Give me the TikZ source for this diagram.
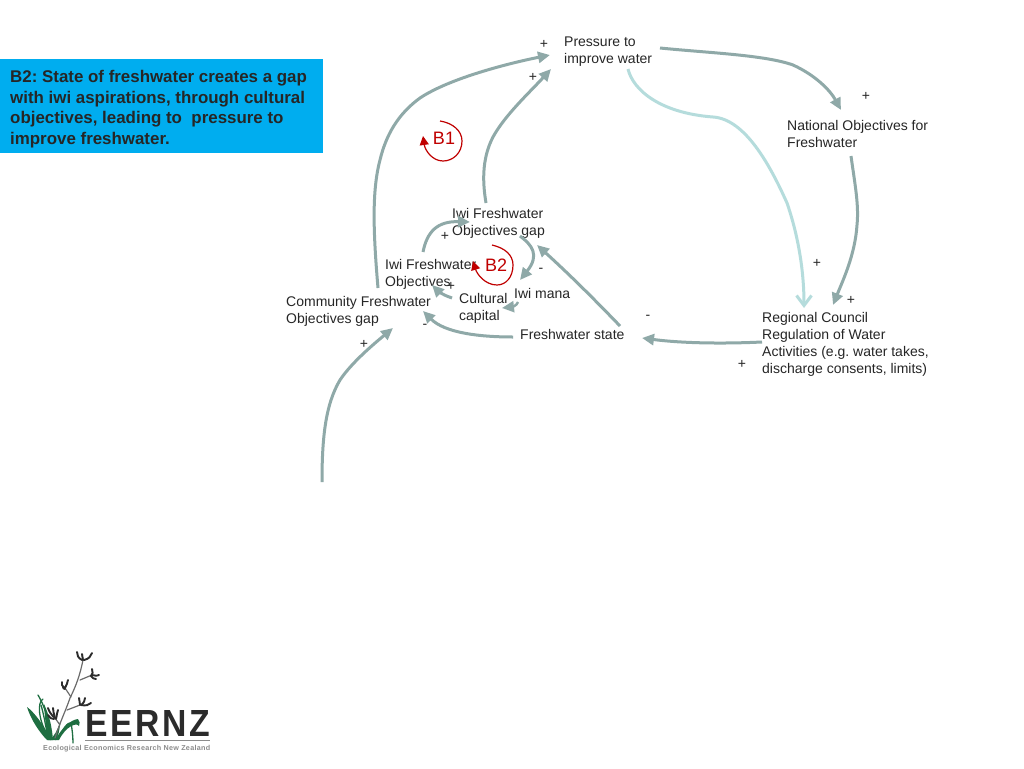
\documentclass[tikz,border=0pt]{standalone}
\usepackage{fontspec}
\setmainfont{Liberation Sans}
\usetikzlibrary{arrows.meta}
\definecolor{linkdark}{HTML}{8FA9A8}
\definecolor{linklight}{HTML}{B5DCDC}
\definecolor{loopred}{HTML}{C00000}
\definecolor{bannerblue}{HTML}{00ADEF}
\definecolor{leafgreen}{HTML}{1E6E41}
\definecolor{logodark}{HTML}{2B2B2B}
\tikzset{
  x=1pt,y=-1pt,
  lab/.style={inner sep=0pt,anchor=north west,align=left,font=\fontsize{14}{17}\selectfont,text=black!85},
  sign/.style={inner sep=0pt,font=\fontsize{14}{17}\selectfont,text=black!85},
  link/.style={draw=linkdark,line width=3pt,-{Triangle[length=12pt,width=11pt]}},
  linkpale/.style={draw=linklight,line width=3pt,-{Straight Barb[length=10pt,width=15pt,line width=3pt]}},
  looparc/.style={draw=loopred,line width=1.2pt,-{Triangle[length=9pt,width=9pt]}},
  looplab/.style={inner sep=0pt,text=loopred,font=\fontsize{18}{20}\selectfont},
  stalk/.style={draw=logodark!70,line width=1.2pt,line cap=round},
  bud/.style={draw=logodark,line width=1.9pt,line cap=round},
  leaf/.style={fill=leafgreen,draw=none},
  blade/.style={draw=leafgreen,line width=1.3pt,line cap=round}
}
\begin{document}
\frenchspacing
\begin{tikzpicture}
\useasboundingbox (0,0) rectangle (1024,768);
\fill[white] (0,0) rectangle (1024,768);
% banner
\fill[bannerblue] (0,59) rectangle (323,153);
\node[inner sep=0pt,anchor=north west,align=left,text=black!85,font=\fontsize{16.9}{20.6}\selectfont\bfseries] (banner) at (10,70)
 {B2: State of freshwater creates a gap\\with iwi aspirations, through cultural\\objectives, leading to\ \ pressure to\\improve freshwater.};
% variables
\node[lab] (P) at (564,37) {Pressure to\\improve water};
\node[lab] (N) at (787,120) {National Objectives for\\Freshwater};
\node[lab] (R) at (762,312) {Regional Council\\Regulation of Water\\Activities (e.g. water takes,\\discharge consents, limits)};
\node[lab] (G) at (452,208) {Iwi Freshwater\\Objectives gap};
\node[lab] (O) at (385,259) {Iwi Freshwater\\Objectives};
\node[lab] (C) at (286,296) {Community Freshwater\\Objectives gap};
\node[lab] (K) at (459,293) {Cultural\\capital};
\node[lab] (M) at (514,288) {Iwi mana};
\node[lab] (S) at (520,329) {Freshwater state};
\coordinate (free) at (322,482);
% connectors
\draw[link] ([shift={(92,-8)}]C.north west) .. controls (373,230) and (372,190) .. (380,160) .. controls (386,135) and (398,114) .. (420,98) .. controls (450,78) and (510,63) .. ([shift={(-14,18)}]P.north west);
\draw[link] ([shift={(34,-5)}]G.north west) .. controls (483,185) and (481,160) .. (493,137) .. controls (505,115) and (530,92) .. ([shift={(-13,32)}]P.north west);
\draw[link] ([shift={(96,11)}]P.north west) .. controls (710,53) and (765,55) .. (793,65) .. controls (815,75) and (830,90) .. ([shift={(54,-10)}]N.north west);
\draw[linkpale] ([shift={(64,32)}]P.north west) .. controls (633,90) and (660,113) .. (713,117) .. controls (745,119) and (770,165) .. (787,203) .. controls (798,235) and (804,270) .. ([shift={(42,-4)}]R.north west);
\draw[link] ([shift={(64,36)}]N.north west) .. controls (855,185) and (859,205) .. (857,225) .. controls (855,255) and (843,280) .. ([shift={(71,-7)}]R.north west);
\draw[link] ([shift={(0,30)}]R.north west) .. controls (720,344) and (680,343) .. ([shift={(122,9)}]S.north west);
\draw[link] ([shift={(100,-3)}]S.north west) .. controls (595,300) and (570,275) .. ([shift={(85,37)}]G.north west);
\draw[link] ([shift={(-7,8)}]S.north west) .. controls (480,337) and (445,333) .. ([shift={(137,15)}]C.north west);
\draw[link] ([shift={(38,-7)}]O.north west) .. controls (427,232) and (437,221) .. ([shift={(18,14)}]G.north west);
\draw[link] ([shift={(68,28)}]G.north west) .. controls (532,245) and (540,255) .. ([shift={(6,-8)}]M.north west);
\draw[link,line width=2.4pt] ([shift={(4,14)}]M.north west) .. controls (517,306) and (511,307) .. ([shift={(43,15)}]K.north west);
\draw[link] ([shift={(-7,5)}]K.north west) .. controls (445,296) and (438,291) .. ([shift={(47,26)}]O.north west);
\draw[link] (free) .. controls (322,440) and (325,405) .. (340,380) .. controls (352,362) and (375,343) .. ([shift={(107,32)}]C.north west);
% signs
\node[sign] (s1) at (544,44) {+};
\node[sign] (s2) at (533,77) {+};
\node[sign] (s3) at (866,96) {+};
\node[sign] (s4) at (445,236) {+};
\node[sign] (s5) at (451,286) {+};
\node[sign] (s6) at (364,344) {+};
\node[sign] (s7) at (817,263) {+};
\node[sign] (s8) at (851,300) {+};
\node[sign] (s9) at (742,364) {+};
\node[sign] (m1) at (541,270) {-};
\node[sign] (m2) at (425,326) {-};
\node[sign] (m3) at (648,317) {-};
% loops
\node[looplab] (B1) at (444,138) {B1};
\node[looplab] (B2) at (496,265) {B2};
\draw[looparc] (440,121) .. controls (453,123) and (462,131) .. (462,141) .. controls (462,153) and (453,161) .. (443,161) .. controls (432,161) and (425,150) .. (423,136);
\draw[looparc] (492,245) .. controls (505,248) and (513,255) .. (513,265) .. controls (513,277) and (506,285) .. (497,285) .. controls (485,285) and (477,274) .. (473,261);
% logo: leaves
\fill[leaf] (51,740) .. controls (44,725) and (34,712) .. (27,707) .. controls (31,720) and (40,733) .. (47,740) -- cycle;
\draw[blade] (50,739) .. controls (38,722) and (37,702) .. (43,699);
\draw[blade] (38,695) .. controls (42,702) and (46,710) .. (47,720);
\fill[leaf] (53,740) .. controls (52,728) and (50,717) .. (44,704) .. controls (45,718) and (46,730) .. (48,740) -- cycle;
\draw[blade] (48,738) .. controls (46,728) and (44,715) .. (41,705);
\fill[leaf] (50,740) .. controls (54,736) and (58,730) .. (60,722) .. controls (60,730) and (58,736) .. (56,740) -- cycle;
\fill[leaf] (55,740) .. controls (62,728) and (70,720) .. (78,719) .. controls (80,721) and (80,724) .. (79,726) .. controls (77,722) and (66,726) .. (59,740) -- cycle;
\draw[blade] (59,738) .. controls (63,728) and (68,722) .. (71,723) .. controls (72,728) and (73,736) .. (73,743);
% logo: plant
\draw[stalk] (55,738) .. controls (60,722) and (66,710) .. (70,698) .. controls (76,686) and (80,675) .. (83,660);
\draw[stalk] (80,680) -- (92,675);
\draw[stalk] (71,697) -- (65,688);
\draw[stalk] (67,710) -- (80,705);
\draw[stalk] (60,725) -- (55,718);
\draw[bud] (82,660) .. controls (78,658) and (77,655) .. (77,652);
\draw[bud] (83,660) -- (82,654);
\draw[bud] (84,660) .. controls (89,659) and (91,656) .. (92,653);
\draw[bud] (91,676) .. controls (93,674) and (93,672) .. (92,669);
\draw[bud] (92,675) .. controls (95,676) and (98,676) .. (99,675);
\draw[bud] (91,676) .. controls (92,678) and (94,679) .. (96,679);
\draw[bud] (65,688) .. controls (62,686) and (61,684) .. (62,682);
\draw[bud] (65,688) .. controls (67,685) and (67,683) .. (68,680);
\draw[bud] (65,689) .. controls (64,689) and (63,688) .. (63,687);
\draw[bud] (80,705) .. controls (80,702) and (79,700) .. (79,698);
\draw[bud] (81,705) .. controls (84,703) and (85,700) .. (85,698);
\draw[bud] (81,705) .. controls (86,706) and (89,705) .. (91,703);
\draw[bud] (55,718) .. controls (51,715) and (49,711) .. (48,708);
\draw[bud] (55,718) .. controls (54,714) and (53,711) .. (53,708);
\draw[bud] (56,719) .. controls (57,715) and (57,712) .. (58,710);
\draw[bud] (54,719) .. controls (52,719) and (49,718) .. (48,715);
% logo: wordmark
\node[inner sep=0pt,anchor=south west,text=logodark] (eernz) at (85,736.5) {\resizebox{125pt}{26pt}{\addfontfeature{LetterSpace=8}\fontsize{36}{36}\selectfont\bfseries EERNZ}};
\draw[draw=black!45,line width=0.6pt] (85,740.5) -- (210,740.5);
\node[inner sep=0pt,anchor=base west,text=black!45] (eernztag) at (43,750.5) {\resizebox{167pt}{!}{\addfontfeature{LetterSpace=4}\bfseries Ecological Economics Research New Zealand}};
\end{tikzpicture}
\end{document}
